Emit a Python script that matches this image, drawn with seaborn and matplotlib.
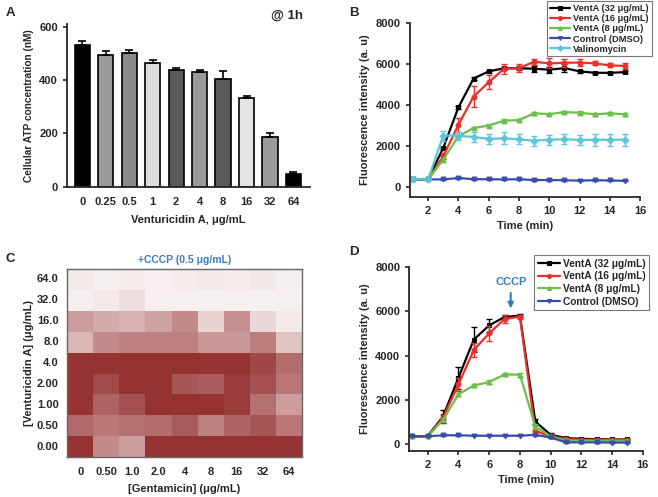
import numpy as np
import pandas as pd
import matplotlib
matplotlib.use("Agg")
import matplotlib.pyplot as plt
from matplotlib.colors import LinearSegmentedColormap
import seaborn as sns

sns.set_style("ticks")
plt.rcParams["font.family"] = ["Liberation Sans", "DejaVu Sans"]
plt.rcParams["font.weight"] = "bold"
plt.rcParams["axes.labelweight"] = "bold"
plt.rcParams["axes.linewidth"] = 1.3

# ---- Panel A: ATP ----
atp_dose = ["0", "0.25", "0.5", "1", "2", "4", "8", "16", "32", "64"]
atp_mean = [530, 493, 502, 463, 436, 431, 404, 334, 186, 50]
atp_err = [16, 16, 12, 12, 9, 8, 28, 5, 16, 4]
atp_colors = ["#000000", "#9a9a9a", "#8a8a8a", "#dcdcdc", "#5a5a5a",
              "#9a9a9a", "#5a5a5a", "#e4e4e4", "#9a9a9a", "#000000"]

# ---- Panel B: kinetics ----
time_b = [1, 2, 3, 4, 5, 6, 7, 8, 9, 10, 11, 12, 13, 14, 15]
b_32 = [350, 350, 1890, 3870, 5280, 5630, 5780, 5780, 5760, 5710, 5790, 5630, 5560, 5560, 5590]
b_32_err = [0, 0, 60, 80, 60, 60, 80, 100, 150, 150, 200, 80, 60, 60, 60]
b_16 = [350, 350, 1480, 3020, 4400, 5100, 5750, 5790, 6100, 6020, 6050, 6060, 6020, 5920, 5900]
b_16_err = [0, 0, 150, 350, 500, 350, 250, 200, 150, 250, 200, 150, 100, 100, 150]
b_8 = [350, 350, 1320, 2460, 2860, 2980, 3220, 3250, 3580, 3540, 3640, 3610, 3530, 3580, 3530]
b_8_err = [0, 0, 60, 60, 60, 60, 60, 60, 60, 60, 60, 60, 60, 60, 60]
b_dmso = [350, 350, 350, 420, 360, 360, 350, 360, 320, 320, 310, 290, 310, 300, 280]
b_dmso_err = [0, 0, 30, 30, 30, 30, 30, 30, 30, 30, 30, 30, 30, 30, 30]
b_val = [370, 350, 2490, 2490, 2420, 2330, 2360, 2310, 2240, 2290, 2310, 2280, 2290, 2290, 2290]
b_val_err = [0, 0, 250, 200, 250, 250, 300, 250, 250, 250, 250, 250, 300, 300, 300]

# ---- Panel D: kinetics with CCCP ----
time_d = [1, 2, 3, 4, 5, 6, 7, 8, 9, 10, 11, 12, 13, 14, 15]
d_32 = [350, 370, 1250, 3000, 4720, 5360, 5740, 5800, 1020, 420, 270, 240, 225, 210, 210]
d_32_err = [0, 0, 300, 500, 550, 300, 100, 80, 100, 60, 40, 40, 40, 40, 40]
d_16 = [350, 350, 1200, 2700, 4250, 5000, 5650, 5750, 600, 350, 230, 200, 200, 190, 180]
d_16_err = [0, 0, 100, 300, 300, 350, 200, 80, 250, 60, 40, 40, 40, 40, 40]
d_8 = [350, 350, 1100, 2250, 2650, 2800, 3150, 3130, 800, 350, 170, 150, 150, 150, 150]
d_8_err = [0, 0, 80, 80, 80, 80, 80, 80, 100, 60, 40, 40, 40, 40, 40]
d_dmso = [350, 350, 400, 400, 380, 380, 380, 380, 420, 300, 80, 80, 80, 70, 70]
d_dmso_err = [0, 0, 30, 30, 30, 30, 30, 30, 30, 30, 30, 30, 30, 30, 30]

# ---- Panel C: checkerboard (relative intensity, 1 = dark red) ----
vent_labels = ["64.0", "32.0", "16.0", "8.0", "4.0", "2.00", "1.00", "0.50", "0.00"]
gent_labels = ["0", "0.50", "1.0", "2.0", "4", "8", "16", "32", "64"]
grid = np.array([
    [0.06, 0.03, 0.04, 0.02, 0.05, 0.06, 0.05, 0.07, 0.03],
    [0.03, 0.06, 0.12, 0.02, 0.02, 0.02, 0.02, 0.02, 0.02],
    [0.45, 0.38, 0.35, 0.42, 0.55, 0.18, 0.52, 0.15, 0.06],
    [0.32, 0.55, 0.60, 0.60, 0.60, 0.48, 0.48, 0.62, 0.25],
    [1.00, 1.00, 1.00, 1.00, 1.00, 1.00, 1.00, 0.90, 0.70],
    [1.00, 0.88, 1.00, 1.00, 0.82, 0.80, 0.95, 0.85, 0.65],
    [1.00, 0.75, 0.85, 1.00, 1.00, 1.00, 0.95, 0.68, 0.45],
    [0.72, 0.65, 0.68, 0.70, 0.80, 0.60, 0.75, 0.82, 0.65],
    [1.00, 0.55, 0.45, 1.00, 1.00, 1.00, 1.00, 1.00, 1.00],
])

fig = plt.figure(figsize=(6.58, 4.97), dpi=100)
ax_a = fig.add_axes([0.102, 0.624, 0.369, 0.328])
ax_b = fig.add_axes([0.623, 0.604, 0.350, 0.350])
ax_c = fig.add_axes([0.102, 0.080, 0.357, 0.379])
ax_d = fig.add_axes([0.622, 0.093, 0.355, 0.370])

fs = 8

# Panel A
df_a = pd.DataFrame({"dose": atp_dose, "atp": atp_mean})
sns.barplot(data=df_a, x="dose", y="atp", hue="dose", palette=atp_colors,
            legend=False, width=0.65, edgecolor="black", linewidth=1.2,
            ax=ax_a, errorbar=None)
ax_a.errorbar(np.arange(len(atp_dose)), atp_mean, yerr=[np.zeros(len(atp_err)), atp_err],
              fmt="none", ecolor="black", elinewidth=1.2, capsize=3, capthick=1.2)
ax_a.set_xlim(-0.65, 9.7)
ax_a.set_ylim(0, 610)
ax_a.set_yticks([0, 200, 400, 600])
ax_a.tick_params(axis="x", length=0, labelsize=fs, pad=7)
ax_a.tick_params(axis="y", labelsize=fs, width=1.2, length=3)
ax_a.set_xlabel("Venturicidin A, μg/mL", fontsize=fs, labelpad=6)
ax_a.set_ylabel("Cellular ATP concentration (nM)", fontsize=7.3)
ax_a.text(0.97, 1.01, "@ 1h", transform=ax_a.transAxes, ha="right", va="bottom",
          fontsize=9.5, fontweight="bold")
sns.despine(ax=ax_a)


def kinetic(ax, t, series, ylim):
    for y, err, color, marker, label in series:
        df = pd.DataFrame({"t": t, "y": y})
        sns.lineplot(data=df, x="t", y="y", color=color, marker=marker, markersize=3.5,
                     markeredgecolor=color, linewidth=1.6, label=label, ax=ax)
        ax.errorbar(t, y, yerr=err, fmt="none", ecolor=color, elinewidth=1.0,
                    capsize=2.2, capthick=1.0)
    ax.set_xlim(0.8, 16)
    ax.set_ylim(*ylim)
    ax.set_xticks([2, 4, 6, 8, 10, 12, 14, 16])
    ax.set_yticks([0, 2000, 4000, 6000, 8000])
    ax.tick_params(labelsize=fs, width=1.2, length=3)
    ax.set_xlabel("Time (min)", fontsize=fs)
    ax.set_ylabel("Fluorescence intensity (a. u)", fontsize=fs)
    sns.despine(ax=ax)


black, red, green, blue, cyan = "#000000", "#e8302a", "#6cc04a", "#3a4ca8", "#5cc6d6"

kinetic(ax_b, time_b, [
    (b_32, b_32_err, black, "s", "VentA (32 μg/mL)"),
    (b_16, b_16_err, red, "o", "VentA (16 μg/mL)"),
    (b_8, b_8_err, green, "^", "VentA (8 μg/mL)"),
    (b_dmso, b_dmso_err, blue, "v", "Control (DMSO)"),
    (b_val, b_val_err, cyan, "D", "Valinomycin"),
], (-500, 8000))
leg = ax_b.legend(loc="upper right", bbox_to_anchor=(1.07, 1.15), fontsize=6.7,
                  frameon=True, fancybox=False, edgecolor="#555555", handlelength=2.2,
                  handletextpad=0.3, borderpad=0.3, labelspacing=0.12, markerscale=0.8)
leg.get_frame().set_linewidth(0.8)

kinetic(ax_d, time_d, [
    (d_32, d_32_err, black, "s", "VentA (32 μg/mL)"),
    (d_16, d_16_err, red, "o", "VentA (16 μg/mL)"),
    (d_8, d_8_err, green, "^", "VentA (8 μg/mL)"),
    (d_dmso, d_dmso_err, blue, "v", "Control (DMSO)"),
], (-300, 8000))
leg = ax_d.legend(loc="upper right", bbox_to_anchor=(1.05, 1.09), fontsize=7.3,
                  frameon=True, fancybox=False, edgecolor="#555555", handlelength=2.2,
                  handletextpad=0.3, borderpad=0.35, labelspacing=0.25, markerscale=0.8)
leg.get_frame().set_linewidth(0.8)
ax_d.annotate("", xy=(7.4, 6000), xytext=(7.4, 6950),
              arrowprops=dict(arrowstyle="-|>", color="#2f7cc4", lw=1.5, mutation_scale=8))
ax_d.text(7.4, 7100, "CCCP", color="#2f7cc4", ha="center", va="bottom",
          fontsize=8, fontweight="bold")

# Panel C
cmap = LinearSegmentedColormap.from_list("wr", ["#f9f4f4", "#c89494", "#953333"])
sns.heatmap(pd.DataFrame(grid, index=vent_labels, columns=gent_labels), cmap=cmap,
            vmin=0, vmax=1, cbar=False, ax=ax_c)
for s in ax_c.spines.values():
    s.set_visible(True)
    s.set_color("#666666")
    s.set_linewidth(1.0)
ax_c.tick_params(length=0, labelsize=fs)
ax_c.tick_params(axis="x", pad=7)
ax_c.tick_params(axis="y", pad=6)
ax_c.set_yticklabels(vent_labels, rotation=0, fontweight="bold")
ax_c.set_xticklabels(gent_labels, rotation=0, fontweight="bold")
ax_c.set_xlabel("[Gentamicin] (μg/mL)", fontsize=fs, labelpad=5)
ax_c.set_ylabel("[Venturicidin A] (μg/mL)", fontsize=fs, labelpad=2)
ax_c.set_title("+CCCP (0.5 μg/mL)", color="#3a7cc0", fontsize=7.5, fontweight="bold", pad=4)

for lab, x, y in [("A", 0.008, 0.985), ("B", 0.53, 0.985), ("C", 0.008, 0.49), ("D", 0.53, 0.505)]:
    fig.text(x, y, lab, fontsize=9.5, fontweight="bold", va="top")

fig.savefig("out.png", dpi=100)
